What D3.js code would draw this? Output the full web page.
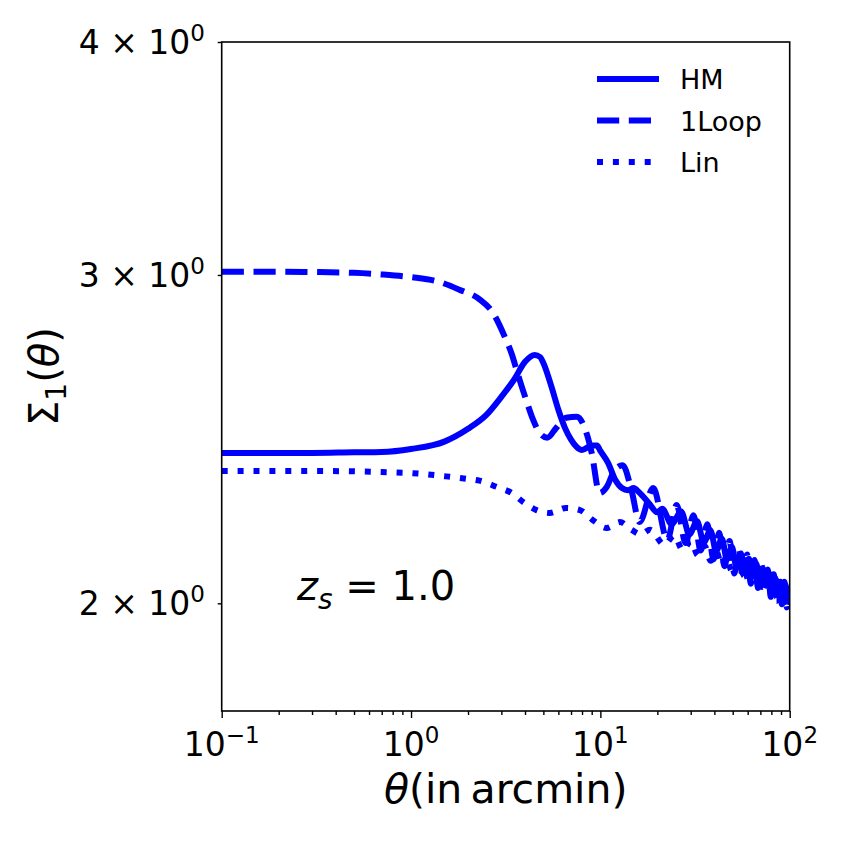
<!DOCTYPE html>
<html>
<head>
<meta charset="utf-8">
<script src="https://cdn.jsdelivr.net/npm/d3@7"></script>
<style>
  body { margin: 0; background: #fff; }
  svg { font-family: "DejaVu Sans", sans-serif; }
  .tick line { stroke: #000; stroke-width: 1.4; }
</style>
</head>
<body>
<script>
// theta (arcmin) and Sigma_1(theta), one pair of arrays per curve
const thetaHM = [0.1, 0.2, 0.3, 0.5, 0.7, 1, 1.5, 2, 2.5, 3, 3.5, 4, 4.5, 4.8, 5, 5.5, 6, 6.5, 7, 7.5,
  8, 9, 9.6, 10, 11, 12, 13, 14, 15, 16, 18, 20, 21.2, 23.8, 26.7, 29.5, 32.4, 35.2, 38.1, 40.9,
  43.8, 46.6, 49.5, 52.3, 55.2, 58, 60.9, 63.7, 66.6, 69.4, 72.3, 75.1, 78, 80.8, 83.7, 86.5, 89.4,
  92.2, 95.1, 97.9, 100];
const sigmaHM = [2.408, 2.408, 2.408, 2.410, 2.411, 2.420, 2.442, 2.481, 2.524, 2.581, 2.636, 2.695,
  2.718, 2.711, 2.691, 2.616, 2.540, 2.484, 2.448, 2.426, 2.417, 2.430, 2.430, 2.414, 2.378, 2.329,
  2.306, 2.300, 2.306, 2.294, 2.264, 2.238, 2.248, 2.205, 2.240, 2.178, 2.213, 2.156, 2.189, 2.133,
  2.166, 2.112, 2.144, 2.093, 2.127, 2.079, 2.113, 2.067, 2.100, 2.056, 2.088, 2.044, 2.075, 2.033,
  2.064, 2.022, 2.054, 2.013, 2.046, 2.005, 2.020];

const theta1Loop = [0.1, 0.2, 0.3, 0.5, 0.7, 1, 1.4, 1.8, 2.3, 2.7, 3.1, 3.4, 3.65, 4.05, 4.4, 4.75,
  5.25, 5.85, 6.6, 7.5, 8.5, 9.0, 9.9, 10.8, 11.9, 13.1, 14.6, 16.1, 19.0, 22.6, 25.3, 28.2, 31, 33.9,
  36.7, 39.6, 42.4, 45.3, 48.1, 51, 53.8, 56.7, 59.5, 62.4, 65.2, 68.1, 70.9, 73.8, 76.6, 79.5, 82.3,
  85.2, 88, 90.9, 93.7, 96.6, 99.4, 100];
const sigma1Loop = [3.012, 3.012, 3.011, 3.008, 3.002, 2.992, 2.975, 2.946, 2.911, 2.864, 2.785,
  2.722, 2.658, 2.572, 2.511, 2.471, 2.454, 2.484, 2.515, 2.518, 2.463, 2.408, 2.292, 2.309, 2.358,
  2.372, 2.300, 2.211, 2.306, 2.163, 2.258, 2.155, 2.230, 2.135, 2.205, 2.112, 2.182, 2.094, 2.160,
  2.075, 2.140, 2.061, 2.124, 2.049, 2.110, 2.038, 2.097, 2.027, 2.085, 2.016, 2.073, 2.006, 2.062,
  1.998, 2.054, 1.990, 2.047, 2.040];

const thetaLin = [0.1, 0.2, 0.3, 0.5, 0.7, 1, 1.5, 2, 2.3, 2.84, 3.4, 3.9, 4.6, 5.4, 6.6, 7.8, 9.1,
  10.8, 12.7, 14.6, 16.3, 18.3, 21.8, 24.5, 27.3, 30, 32.8, 35.5, 38.3, 41, 43.8, 46.5, 49.3, 52, 54.8,
  57.5, 60.3, 63, 65.8, 68.5, 71.3, 74, 76.8, 79.5, 82.3, 85, 87.8, 90.5, 93.3, 96, 98.8, 100];
const sigmaLin = [2.355, 2.355, 2.355, 2.354, 2.352, 2.349, 2.340, 2.332, 2.327, 2.309, 2.292, 2.267,
  2.244, 2.236, 2.250, 2.244, 2.217, 2.195, 2.211, 2.190, 2.178, 2.190, 2.150, 2.175, 2.135, 2.160,
  2.122, 2.147, 2.108, 2.132, 2.095, 2.118, 2.082, 2.105, 2.070, 2.093, 2.060, 2.083, 2.050, 2.073,
  2.041, 2.064, 2.032, 2.055, 2.022, 2.045, 2.013, 2.037, 2.005, 2.029, 1.997, 2.005];

const seriesNames = ["HM", "1Loop", "Lin"];
const xMajor = [0.1, 1, 10, 100];
const xMajorExp = ["\u22121", "0", "1", "2"];
const yTicks = [2, 3, 4];

const width = 847;
const height = 847;
const plot = { left: 221.7, right: 789.7, top: 42, bottom: 711 };
const blue = "#0000ff";
const lw = 6;
const dashes = [null, "22.2,9.6", "6,9.9"];

const svg = d3.select("body").append("svg").attr("width", width).attr("height", height);

const xScale = d3.scaleLog().domain([0.1, 100]).range([plot.left, plot.right]);
const yScale = d3.scaleLog().domain([1.751, 4]).range([plot.bottom, plot.top]);

// minor ticks 2..9 in each decade
const xMinor = [];
[0.1, 1, 10].forEach(dec => { for (let k = 2; k <= 9; k++) xMinor.push(+(k * dec).toPrecision(3)); });

svg.append("defs").append("clipPath").attr("id", "clip")
  .append("rect")
  .attr("x", plot.left).attr("y", plot.top)
  .attr("width", plot.right - plot.left).attr("height", plot.bottom - plot.top);

/** curves */
const line = d3.line()
  .x(d => xScale(d[0]))
  .y(d => yScale(d[1]))
  .curve(d3.curveMonotoneX);

const curves = [d3.zip(thetaHM, sigmaHM), d3.zip(theta1Loop, sigma1Loop), d3.zip(thetaLin, sigmaLin)];

svg.append("g").attr("clip-path", "url(#clip)")
  .selectAll("path")
  .data(curves)
  .enter()
  .append("path")
  .attr("fill", "none")
  .attr("stroke", blue)
  .attr("stroke-width", lw)
  .attr("stroke-dasharray", (d, i) => dashes[i])
  .attr("d", line);

/** axes (ticks only, frame drawn separately) */
const gx = svg.append("g").attr("transform", "translate(0," + plot.bottom + ")");
gx.call(d3.axisBottom(xScale).tickValues(xMajor).tickSize(7).tickSizeOuter(0).tickFormat(""));
gx.append("g").call(d3.axisBottom(xScale).tickValues(xMinor).tickSize(4).tickSizeOuter(0).tickFormat(""));
gx.selectAll(".domain").remove();

const gy = svg.append("g").attr("transform", "translate(" + plot.left + ",0)");
gy.call(d3.axisLeft(yScale).tickValues(yTicks).tickSize(4).tickSizeOuter(0).tickFormat(""));
gy.select(".domain").remove();

svg.append("rect")
  .attr("x", plot.left).attr("y", plot.top)
  .attr("width", plot.right - plot.left).attr("height", plot.bottom - plot.top)
  .attr("fill", "none").attr("stroke", "#000").attr("stroke-width", 1.6);

/** tick labels */
const tickFont = 33;
xMajor.forEach((v, i) => {
  const t = svg.append("text")
    .attr("x", xScale(v)).attr("y", 756)
    .attr("text-anchor", "middle")
    .attr("font-size", tickFont);
  t.append("tspan").text("10");
  t.append("tspan").attr("dy", -13).attr("font-size", 23).text(xMajorExp[i]);
});

yTicks.forEach(v => {
  const t = svg.append("text")
    .attr("x", 205).attr("y", yScale(v) + 12)
    .attr("text-anchor", "end")
    .attr("font-size", tickFont);
  t.append("tspan").text(v + " \u00d7 10");
  t.append("tspan").attr("dy", -13).attr("font-size", 23).text("0");
});

/** axis labels */
const xl = svg.append("text")
  .attr("x", (plot.left + plot.right) / 2).attr("y", 803)
  .attr("text-anchor", "middle").attr("font-size", 41);
xl.append("tspan").attr("font-style", "italic").text("\u03b8");
xl.append("tspan").text("(in\u2009arcmin)");

const yl = svg.append("text")
  .attr("transform", "translate(58," + ((plot.top + plot.bottom) / 2) + ") rotate(-90)")
  .attr("text-anchor", "middle").attr("font-size", 40);
yl.append("tspan").text("\u03a3");
yl.append("tspan").attr("dy", 8).attr("font-size", 28).text("1");
yl.append("tspan").attr("dy", -8).text("(");
yl.append("tspan").attr("font-style", "italic").text("\u03b8");
yl.append("tspan").text(")");

/** redshift annotation */
const zt = svg.append("text").attr("x", 297).attr("y", 600).attr("font-size", 40);
zt.append("tspan").attr("font-style", "italic").text("z");
zt.append("tspan").attr("dy", 9).attr("font-size", 28).attr("font-style", "italic").text("s");
zt.append("tspan").attr("dy", -9).text(" = 1.0");

/** legend */
const legend = svg.append("g")
  .selectAll("g")
  .data(seriesNames)
  .enter()
  .append("g")
  .attr("transform", (d, i) => "translate(597," + (79 + i * 41.5) + ")");

legend.append("line")
  .attr("x1", 0).attr("x2", 62)
  .attr("stroke", blue)
  .attr("stroke-width", lw)
  .attr("stroke-dasharray", (d, i) => dashes[i]);

legend.append("text")
  .attr("x", 83).attr("y", 10)
  .attr("font-size", 27)
  .text(d => d);
</script>
</body>
</html>
